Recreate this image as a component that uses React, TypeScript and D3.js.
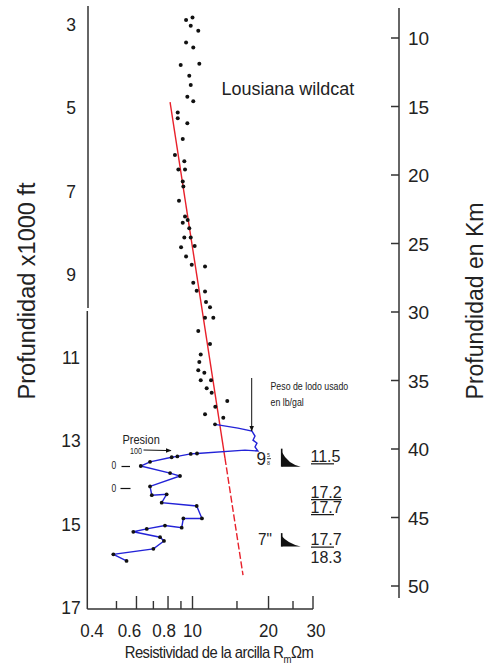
import React from 'react';
import * as d3 from 'd3';

const W = 487;
const H = 667;

// Shale (clay) resistivity points: resistivity (ohm-m) and depth (x1000 ft)
const shaleR = [0.943,1.000,0.984,1.054,0.943,1.007,0.898,1.064,0.971,0.984,0.954,1.007,0.874,0.874,0.954,0.915,0.852,0.928,0.879,0.934,0.915,0.920,0.884,0.934,0.957,0.915,0.971,0.928,0.984,0.901,1.020,0.943,0.993,1.121,1.007,1.039,1.121,1.131,1.173,1.121,1.209,1.054,1.173,1.078,1.064,1.054,1.114,1.078,1.184,1.138,1.191,1.231,1.373,1.121,1.324];
const shaleD = [2.88,2.82,3.02,3.14,3.42,3.54,3.96,3.93,4.22,4.44,4.72,4.83,5.10,5.24,5.36,5.74,6.12,6.27,6.47,6.47,6.76,6.88,7.22,7.60,7.68,7.75,7.88,8.10,8.10,8.34,8.31,8.56,8.76,8.80,9.19,9.38,9.40,9.65,9.78,10.03,10.03,10.35,10.66,10.91,11.09,11.29,11.35,11.53,11.53,11.72,11.83,12.17,12.03,12.35,12.43];

// Overpressured zone curve
const pressR = [1.228,1.514,1.720,1.768,1.736,1.800,1.768,1.816,1.614,1.042,0.984,0.871,0.827,0.679,0.624,0.815,0.892,0.679,0.690,0.790,0.755,1.039,1.090,0.920,0.906,0.778,0.659,0.583,0.744,0.771,0.700,0.486,0.548];
const pressD = [12.59,12.68,12.75,12.87,12.97,13.04,13.13,13.23,13.21,13.29,13.30,13.36,13.38,13.49,13.59,13.76,13.83,14.08,14.29,14.27,14.47,14.55,14.85,14.85,15.07,15.02,15.10,15.17,15.30,15.39,15.58,15.71,15.87];

// Normal compaction trend line
const trendR = [0.815, 1.585];
const trendD = [4.85, 16.21];
const trendDashFrom = 13.4;

// Axes
const depthTicks = [3, 5, 7, 9, 11, 13, 15, 17];
const kmTicks = [10, 15, 20, 25, 30, 35, 40, 45, 50];
const resTicks = [0.5, 0.6, 0.7, 0.8, 0.9, 1, 1.5, 2, 2.5, 3];
const resMajor = [0.6, 0.8, 1, 2, 3];
const resLabelVals = [0.4, 0.6, 0.8, 1, 2, 3];
const resLabelText = ['0.4', '0.6', '0.8', '10', '20', '30'];

// Mud weights (lb/gal) and the depths where they are written
const mudWeights = ['11.5', '17.2', '17.7', '17.7', '18.3'];
const mudDepths = [13.49, 14.35, 14.71, 15.49, 15.91];
const mudUnderlined = [true, true, true, true, false];
// Casing points
const casingLabels = ['9', '7"'];
const casingDepths = [13.57, 15.49];

const FONT = 'Liberation Sans, Arial, Helvetica, sans-serif';
const INK = '#222';

const x = d3.scaleLog().domain([0.4, 3]).range([92, 313]);
const y = d3.scaleLinear().domain([3, 17]).range([25, 608]);
const yKm = d3.scaleLinear().domain([10, 50]).range([38, 586]);

const labelNudge = [0, -7, -4, 0, 0, 3];

function T({ x: tx, y: ty, size, sx = 1, anchor = 'start', children, fill = INK }: any) {
  return (
    <text
      transform={`translate(${tx},${ty}) scale(${sx},1)`}
      fontSize={size}
      textAnchor={anchor}
      fill={fill}
      fontFamily={FONT}
    >
      {children}
    </text>
  );
}

export default function App() {
  const pressPts = pressR.map((r, i) => [x(r), y(pressD[i])] as [number, number]);
  const line = d3.line();

  // Trend line split into solid and dashed parts
  const lr0 = Math.log10(trendR[0]);
  const lr1 = Math.log10(trendR[1]);
  const t = (trendDashFrom - trendD[0]) / (trendD[1] - trendD[0]);
  const rMid = Math.pow(10, lr0 + t * (lr1 - lr0));
  const solid = line([[x(trendR[0]), y(trendD[0])], [x(rMid), y(trendDashFrom)]]);
  const dashed = line([[x(rMid), y(trendDashFrom)], [x(trendR[1]), y(trendD[1])]]);

  const axisX0 = 88;
  const axisY = 609;
  const rightX = 399;

  const noMarker = new Set([1, 2, 3, 4, 5, 6, 7, 8]);

  const casingSym = (cx: number, by: number, h: number) => (
    <g>
      <line x1={cx} x2={cx} y1={by - h} y2={by} stroke="#111" strokeWidth={1.6} />
      <path d={`M${cx},${by - h + 3} Q${cx + 6},${by - 3} ${cx + 19},${by} L${cx},${by} Z`} fill="#111" />
    </g>
  );

  return (
    <svg
      width={W}
      height={H}
      style={{ position: 'absolute', left: 0, top: 0, background: '#fff' }}
      xmlns="http://www.w3.org/2000/svg"
    >
      <rect width={W} height={H} fill="#fff" />
      <defs>
        <marker id="arr" viewBox="0 0 10 10" refX="9" refY="5" markerWidth="6" markerHeight="6" orient="auto">
          <path d="M0,1 L10,5 L0,9 Z" fill="#111" />
        </marker>
      </defs>

      {/* Left axis (with small break) */}
      <line x1={axisX0} x2={axisX0} y1={6} y2={308} stroke="#333" strokeWidth={1.5} />
      <line x1={axisX0 - 0.7} x2={axisX0 - 0.7} y1={311} y2={axisY} stroke="#333" strokeWidth={1.5} />
      {depthTicks.map((d) => (
        <T key={d} x={71} y={y(d) + 6} size={17.5} anchor="middle">{d}</T>
      ))}

      {/* Bottom axis */}
      <line x1={axisX0 - 0.7} x2={313} y1={axisY} y2={axisY} stroke="#333" strokeWidth={1.5} />
      {resTicks.map((r) => (
        <line key={r} x1={x(r)} x2={x(r)} y1={axisY} y2={axisY - (resMajor.includes(r) ? 13 : 8)} stroke="#333" strokeWidth={1.4} />
      ))}
      {resLabelVals.map((r, i) => (
        <T key={r} x={x(r) + labelNudge[i]} y={636.5} size={18.5} sx={0.92} anchor="middle">{resLabelText[i]}</T>
      ))}
      <text
        transform={`translate(219,658) scale(0.87,1)`}
        fontSize={17}
        textAnchor="middle"
        fill={INK}
        fontFamily={FONT}
        letterSpacing={-0.6}
      >
        Resistividad de la arcilla R<tspan fontSize={11} dy={5}>m</tspan><tspan dy={-5}>Ωm</tspan>
      </text>

      {/* Right axis */}
      <line x1={rightX} x2={rightX} y1={8} y2={598} stroke="#333" strokeWidth={1.5} />
      {kmTicks.map((k) => (
        <g key={k}>
          <line x1={rightX - 8} x2={rightX} y1={yKm(k)} y2={yKm(k)} stroke="#333" strokeWidth={1.5} />
          <T x={408} y={yKm(k) + 7} size={19}>{k}</T>
        </g>
      ))}

      {/* Axis titles */}
      <text transform="translate(35,291) rotate(-90)" fontSize={23.5} textAnchor="middle" fill={INK} fontFamily={FONT}>
        Profundidad x1000 ft
      </text>
      <text transform="translate(483,301) rotate(-90)" fontSize={23} textAnchor="middle" fill={INK} fontFamily={FONT}>
        Profundidad en Km
      </text>

      <T x={221.5} y={95} size={18.5} sx={0.97}>Lousiana wildcat</T>

      {/* Trend line */}
      <path d={solid || ''} stroke="#e8202a" strokeWidth={1.4} fill="none" />
      <path d={dashed || ''} stroke="#e8202a" strokeWidth={1.4} fill="none" strokeDasharray="7,2.5" />

      {/* Shale points */}
      {shaleR.map((r, i) => (
        <circle key={i} cx={x(r)} cy={y(shaleD[i])} r={2} fill="#111" />
      ))}

      {/* Pressure curve */}
      <path d={line(pressPts) || ''} stroke="#2323d8" strokeWidth={1.4} fill="none" />
      {pressPts.map((p, i) =>
        noMarker.has(i) ? null : <circle key={i} cx={p[0]} cy={p[1]} r={1.9} fill="#111" />
      )}

      {/* Pressure annotations */}
      <T x={122.5} y={444} size={12.5} sx={0.88}>Presion</T>
      <T x={130} y={453.5} size={9} sx={0.8}>100</T>
      <line x1={143.5} y1={450} x2={171} y2={450.6} stroke="#111" strokeWidth={1} markerEnd="url(#arr)" />
      <T x={111.5} y={469} size={10} sx={0.85}>0</T>
      <line x1={121.5} x2={130} y1={466.5} y2={466.5} stroke="#111" strokeWidth={1.2} />
      <T x={111.5} y={491.5} size={10} sx={0.85}>0</T>
      <line x1={120.5} x2={130.5} y1={488.5} y2={488.5} stroke="#111" strokeWidth={1.2} />

      {/* Mud weight annotation */}
      <line x1={251.7} x2={251.7} y1={378} y2={431} stroke="#111" strokeWidth={1} markerEnd="url(#arr)" />
      <T x={270.5} y={390} size={10} sx={0.88}>Peso de lodo usado</T>
      <T x={270.5} y={406} size={10} sx={0.88}>en lb/gal</T>

      {mudWeights.map((m, i) => (
        <g key={i}>
          <T x={310.5} y={y(mudDepths[i])} size={16} sx={1}>{m}</T>
          {mudUnderlined[i] && (
            <line x1={311} x2={i === 1 ? 342 : 334} y1={y(mudDepths[i]) + 2} y2={y(mudDepths[i]) + 2} stroke="#111" strokeWidth={1.2} />
          )}
        </g>
      ))}

      {/* Casing shoes */}
      <T x={256.5} y={y(casingDepths[0])} size={19} sx={0.9}>{casingLabels[0]}</T>
      <T x={267} y={y(casingDepths[0]) - 8} size={6} sx={0.9}>5</T>
      <line x1={267} x2={271} y1={y(casingDepths[0]) - 6.5} y2={y(casingDepths[0]) - 6.5} stroke="#111" strokeWidth={0.8} />
      <T x={267} y={y(casingDepths[0]) - 0.5} size={6} sx={0.9}>8</T>
      {casingSym(281.7, y(casingDepths[0]) + 1.5, 18)}

      <T x={258} y={y(casingDepths[1])} size={17} sx={0.9}>{casingLabels[1]}</T>
      {casingSym(281.7, y(casingDepths[1]) + 1.5, 13.5)}
    </svg>
  );
}
